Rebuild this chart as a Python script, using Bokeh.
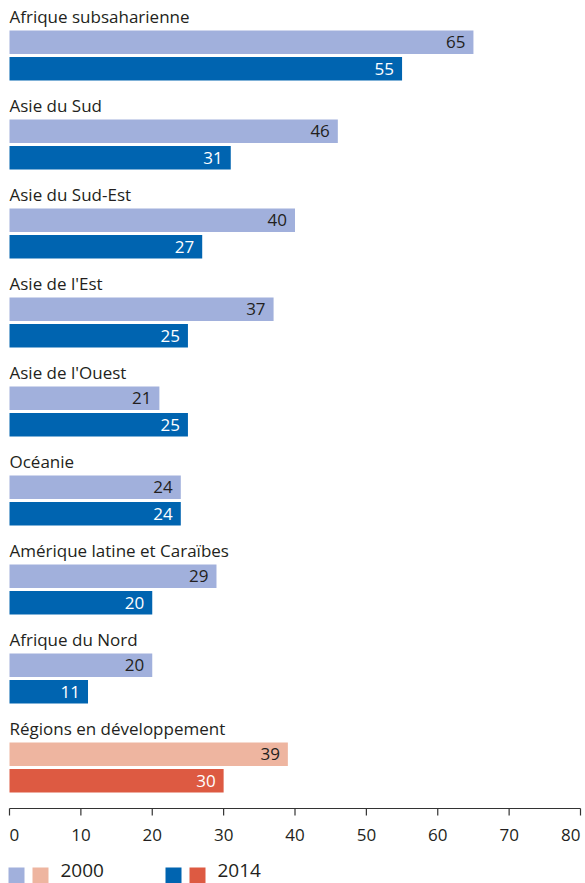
from bokeh.plotting import figure
from bokeh.models import Range1d, ColumnDataSource
from bokeh.core.properties import value
from bokeh.embed import file_html
from bokeh.resources import INLINE

# ---- data ----
regions = ["Afrique subsaharienne", "Asie du Sud", "Asie du Sud-Est", "Asie de l'Est",
           "Asie de l'Ouest", "Océanie", "Amérique latine et Caraïbes", "Afrique du Nord",
           "Régions en développement"]
v2000 = [65, 46, 40, 37, 21, 24, 29, 20, 39]
v2014 = [55, 31, 27, 25, 25, 24, 20, 11, 30]
ticks = [0, 10, 20, 30, 40, 50, 60, 70, 80]
legend_labels = ["2000", "2014"]

# ---- style ----
C2000 = "#A1B0DC"
C2014 = "#0064B0"
C2000_T = "#EEB5A0"
C2014_T = "#DD5A42"
TXT = "#231F20"
FONT = value("Open Sans")

W, H = 585, 883
SLOT = 89.0                 # px per category slot
PXU = 571 / 80.0            # px per x unit
x0 = -9 / PXU
x1 = x0 + W / PXU

p = figure(width=W, height=H, output_backend="svg", toolbar_location=None,
           x_range=Range1d(x0, x1), y_range=Range1d(H / SLOT, 0),
           x_axis_type=None, y_axis_type=None,
           min_border_left=0, min_border_right=0, min_border_top=0, min_border_bottom=0)
p.outline_line_color = None
p.grid.visible = False
p.background_fill_color = "white"
p.border_fill_color = "white"

n = len(regions)
idx = list(range(n))
last = n - 1
col00 = [C2000_T if i == last else C2000 for i in idx]
col14 = [C2014_T if i == last else C2014 for i in idx]

src = ColumnDataSource(dict(
    region=regions, v2000=v2000, v2014=v2014,
    ylab=[i + 16 / SLOT for i in idx],
    y00=[i + 41.75 / SLOT for i in idx],
    y14=[i + 68.25 / SLOT for i in idx],
    c00=col00, c14=col14,
    t00=[str(v) for v in v2000], t14=[str(v) for v in v2014],
    zero=[0] * n,
))

bh = 23.5 / SLOT
p.hbar(y="y00", left="zero", right="v2000", height=bh, fill_color="c00", line_color=None, source=src)
p.hbar(y="y14", left="zero", right="v2014", height=bh, fill_color="c14", line_color=None, source=src)

p.text(x="zero", y="ylab", text="region", source=src, text_font=FONT, text_font_size="17px",
       text_color=TXT, text_align="left", text_baseline="middle")
p.text(x="v2000", y="y00", text="t00", source=src, text_font=FONT, text_font_size="17px",
       text_color=TXT, text_align="right", text_baseline="middle", x_offset=-8)
p.text(x="v2014", y="y14", text="t14", source=src, text_font=FONT, text_font_size="17px",
       text_color="white", text_align="right", text_baseline="middle", x_offset=-8)

# ---- x axis (drawn) ----
ay = 808 / SLOT
p.segment(x0=[ticks[0]], y0=[ay], x1=[ticks[-1]], y1=[ay], line_color="#333333", line_width=1.2)
p.segment(x0=ticks, y0=[ay] * len(ticks), x1=ticks, y1=[815 / SLOT] * len(ticks),
          line_color="#333333", line_width=1.2)
aligns = ["left"] + ["center"] * (len(ticks) - 2) + ["right"]
tsrc = ColumnDataSource(dict(x=ticks, y=[834 / SLOT] * len(ticks), t=[str(t) for t in ticks], a=aligns))
p.text(x="x", y="y", text="t", text_align="a", source=tsrc, text_font=FONT,
       text_font_size="17px", text_color=TXT, text_baseline="middle")

# ---- legend (drawn) ----
sq_y = 875 / SLOT
sq_x = [(16 - 9) / PXU, (40 - 9) / PXU, (173 - 9) / PXU, (197 - 9) / PXU]
sq_c = [C2000, C2000_T, C2014, C2014_T]
p.rect(x=sq_x, y=[sq_y] * 4, width=16, height=16, width_units="screen", height_units="screen",
       fill_color=sq_c, line_color=None)
ly = 869.5 / SLOT
p.text(x=[(60 - 9) / PXU, (217 - 9) / PXU], y=[ly, ly], text=legend_labels, text_font=FONT,
       text_font_size="19px", text_color=TXT, text_align="left", text_baseline="middle")

open("out.html", "w").write(file_html(p, INLINE))
